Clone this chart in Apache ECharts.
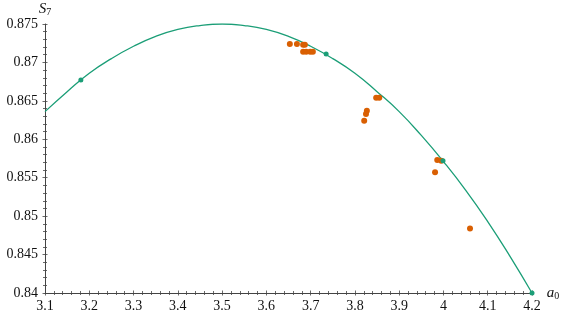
<!DOCTYPE html>
<html><head><meta charset="utf-8">
<script src="https://cdn.jsdelivr.net/npm/echarts@6/dist/echarts.min.js"></script>
<style>html,body{margin:0;padding:0;background:#fff}#c{width:566px;height:318px}</style>
</head><body><div id="c"></div>
<script>
// Fitted curve S7(a0)
const curveA = [3.10,3.15,3.20,3.25,3.30,3.35,3.40,3.45,3.50,3.55,3.60,3.65,3.70,3.75,3.80,3.85,3.90,3.95,4.00,4.05,4.10,4.15,4.20];
const curveS = [0.8636,0.8662,0.8686,0.8705,0.8721,0.8734,0.8743,0.8748,0.8750,0.8748,0.8743,0.8734,0.8721,0.8705,0.8686,0.8662,0.8636,0.8605,0.8571,0.8534,0.8493,0.8448,0.8400];
// Green marked points on curve
const greenA = [3.181, 3.735, 3.999, 4.200];
const greenS = [0.8677, 0.8711, 0.8572, 0.8400];
// Orange data points
const orangeA = [3.653,3.669,3.683,3.687,3.683,3.690,3.699,3.705,3.848,3.855,3.827,3.825,3.821,3.986,3.995,3.981,4.060];
const orangeS = [0.8724,0.8724,0.8723,0.8723,0.8714,0.8714,0.8714,0.8714,0.8654,0.8654,0.8637,0.8633,0.8624,0.8573,0.8572,0.8557,0.8484];
// Axis ticks
const xMin = 3.1, xMax = 4.2, xStep = 0.1;
const yMin = 0.84, yMax = 0.875, yStep = 0.005;

const zip = (a, b) => a.map((v, i) => [v, b[i]]);
const FONT = 'Liberation Serif';
const axisCol = '#444';
const chart = echarts.init(document.getElementById('c'), null, {renderer: 'canvas'});
const baseX = {
  type: 'value', min: xMin, max: xMax, interval: xStep, position: 'bottom',
  splitLine: {show: false},
  minorTick: {show: true, splitNumber: 5, length: 2, lineStyle: {color: axisCol, width: 0.8}},
  axisTick: {show: true, length: 2.5, lineStyle: {color: axisCol, width: 0.8}},
};
const baseY = {
  type: 'value', min: yMin, max: yMax, interval: yStep, position: 'left',
  splitLine: {show: false},
  minorTick: {show: true, splitNumber: 5, length: 2, lineStyle: {color: axisCol, width: 0.8}},
  axisTick: {show: true, length: 2.5, lineStyle: {color: axisCol, width: 0.8}},
};
chart.setOption({
  animation: false,
  grid: {left: 45, right: 34, top: 24, bottom: 25, containLabel: false},
  xAxis: [
    Object.assign({}, baseX, {
      axisLine: {show: true, lineStyle: {color: axisCol, width: 1}},
      axisTick: Object.assign({}, baseX.axisTick, {inside: true}),
      minorTick: Object.assign({}, baseX.minorTick),
      axisLabel: {show: true, margin: 6, color: '#111', fontFamily: FONT, fontSize: 14,
        formatter: v => String(+v.toFixed(2))},
      name: '{i|a}{s|0}', nameLocation: 'end', nameGap: 8,
      nameTextStyle: {rich: {
        i: {fontFamily: FONT, fontStyle: 'italic', fontSize: 15, color: '#111'},
        s: {fontFamily: FONT, fontSize: 10, color: '#111', verticalAlign: 'bottom', padding: [6,0,0,0]}
      }}
    }),
    Object.assign({}, baseX, {
      axisLine: {show: false}, axisLabel: {show: false},
      axisTick: Object.assign({}, baseX.axisTick, {inside: false})
    })
  ],
  yAxis: [
    Object.assign({}, baseY, {
      axisLine: {show: true, lineStyle: {color: axisCol, width: 1}},
      axisTick: Object.assign({}, baseY.axisTick, {inside: true}),
      axisLabel: {show: true, margin: 7, color: '#111', fontFamily: FONT, fontSize: 14,
        formatter: v => String(+v.toFixed(3))},
      name: '{i|S}{s|7}', nameLocation: 'end', nameGap: 6,
      nameTextStyle: {align: 'center', padding: [0, 0, 0, 0], rich: {
        i: {fontFamily: FONT, fontStyle: 'italic', fontSize: 15, color: '#111'},
        s: {fontFamily: FONT, fontSize: 10, color: '#111', padding: [6,0,0,0]}
      }}
    }),
    Object.assign({}, baseY, {
      axisLine: {show: false}, axisLabel: {show: false},
      axisTick: Object.assign({}, baseY.axisTick, {inside: false})
    })
  ],
  series: [
    {type: 'line', data: zip(curveA, curveS), smooth: true, showSymbol: false, symbol: 'none',
     lineStyle: {color: '#1b9e77', width: 1.3}, z: 2},
    {type: 'scatter', data: zip(orangeA, orangeS), symbolSize: 6,
     itemStyle: {color: '#d95f02', opacity: 1}, z: 3},
    {type: 'scatter', data: zip(greenA, greenS), symbolSize: 5,
     itemStyle: {color: '#1b9e77', opacity: 1}, z: 4}
  ]
});
</script></body></html>
